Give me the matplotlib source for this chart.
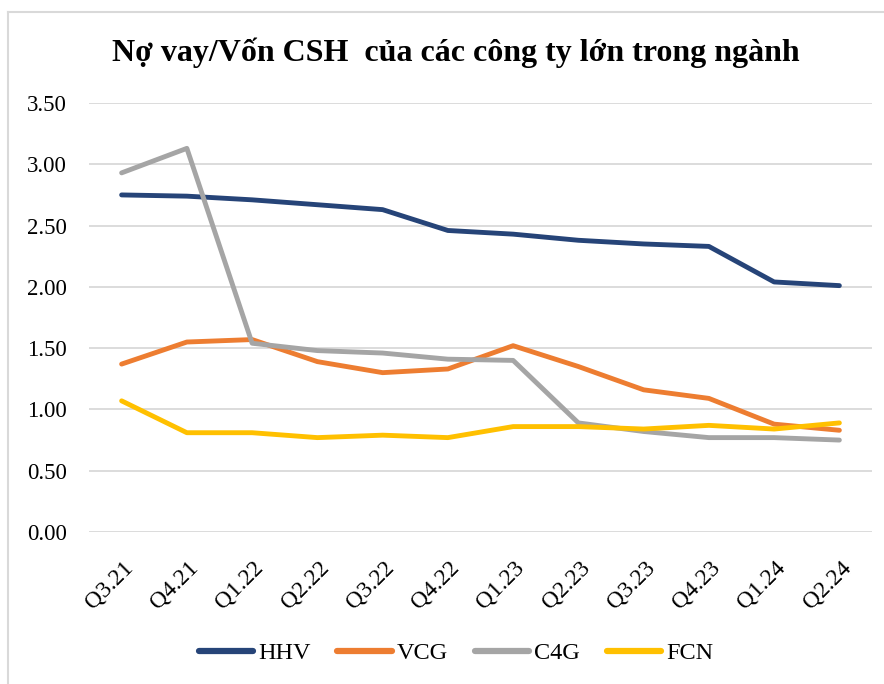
import matplotlib
matplotlib.use("Agg")
import matplotlib.pyplot as plt
import matplotlib.transforms as mtransforms
from matplotlib.lines import Line2D

quarters = ["Q3.21", "Q4.21", "Q1.22", "Q2.22", "Q3.22", "Q4.22",
            "Q1.23", "Q2.23", "Q3.23", "Q4.23", "Q1.24", "Q2.24"]
hhv = [2.75, 2.74, 2.71, 2.67, 2.63, 2.46, 2.43, 2.38, 2.35, 2.33, 2.04, 2.01]
vcg = [1.37, 1.55, 1.57, 1.39, 1.30, 1.33, 1.52, 1.35, 1.16, 1.09, 0.88, 0.83]
c4g = [2.93, 3.13, 1.54, 1.48, 1.46, 1.41, 1.40, 0.89, 0.82, 0.77, 0.77, 0.75]
fcn = [1.07, 0.81, 0.81, 0.77, 0.79, 0.77, 0.86, 0.86, 0.84, 0.87, 0.84, 0.89]
series_names = ["HHV", "VCG", "C4G", "FCN"]
colors = ["#264478", "#ED7D31", "#A5A5A5", "#FFC000"]
yticks = [0.0, 0.5, 1.0, 1.5, 2.0, 2.5, 3.0, 3.5]
title = "Nợ vay/Vốn CSH  của các công ty lớn trong ngành"

plt.rcParams['font.family'] = ['Liberation Serif', 'DejaVu Serif']

fig = plt.figure(figsize=(8.84, 6.84), dpi=100)
ax = fig.add_axes([89/884, 152/684, 783/884, 429/684])

x = list(range(len(quarters)))
for name, vals, c in zip(series_names, [hhv, vcg, c4g, fcn], colors):
    ax.plot(x, vals, color=c, linewidth=3.5, solid_joinstyle='round',
            solid_capstyle='round', label=name, zorder=3)

ax.set_xlim(-0.5, len(quarters) - 0.5)
ax.set_ylim(0, 3.5)
ax.set_yticks(yticks)
ax.set_yticklabels([f"{v:.2f}" for v in yticks], fontsize=16.5)
ax.yaxis.grid(True, color="#d9d9d9", linewidth=1.3)
ax.set_axisbelow(True)
for s in ax.spines.values():
    s.set_visible(False)
ax.tick_params(axis='y', length=0, pad=16, colors='#000000')
ax.tick_params(axis='x', length=0, pad=8)
ax.set_xticks(x)
ax.set_xticklabels(quarters, fontsize=17, rotation=45, ha='right',
                   va='center', rotation_mode='anchor')
off = mtransforms.ScaledTranslation(8/100, -21/100, fig.dpi_scale_trans)
for lbl in ax.get_xticklabels():
    lbl.set_transform(lbl.get_transform() + off)

fig.text(456/884, 1 - 53/684, title, ha='center', va='center',
         fontsize=23, fontweight='bold')

handles = [Line2D([0], [0], color=c, linewidth=4.5, solid_capstyle='round')
           for c in colors]
fig.legend(handles, series_names, loc='center', bbox_to_anchor=(456/884, 1 - 653/684),
           ncol=4, frameon=False, fontsize=17.5, handlelength=2.25,
           handletextpad=0.2, columnspacing=1.1)

# chart frame (light gray border at top and left)
fig.add_artist(Line2D([8/884, 8/884], [0, 1 - 12/684], transform=fig.transFigure,
                      color="#d9d9d9", linewidth=1.5))
fig.add_artist(Line2D([8/884, 1], [1 - 12/684, 1 - 12/684], transform=fig.transFigure,
                      color="#d9d9d9", linewidth=1.5))

fig.savefig("out.png", dpi=100)
